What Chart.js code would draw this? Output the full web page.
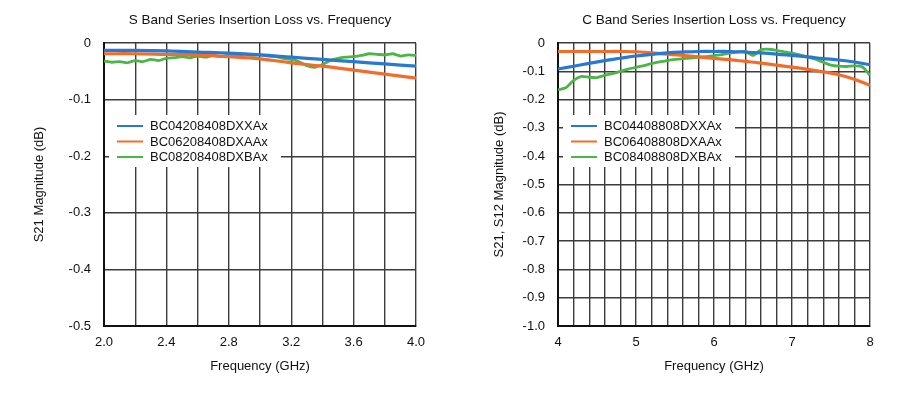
<!DOCTYPE html>
<html>
<head>
<meta charset="utf-8">
<script src="https://cdn.jsdelivr.net/npm/chart.js@4"></script>
<style>
    html, body { margin: 0; padding: 0; background: #fff; }
    .wrap { position: absolute; top: 0; width: 450px; height: 404px; }
</style>
</head>
<body>
<div class="wrap" style="left:0"><canvas id="sBand" width="450" height="404"></canvas></div>
<div class="wrap" style="left:450px"><canvas id="cBand" width="450" height="404"></canvas></div>
<script>
// S band (GHz / dB)
const sFreqSmooth = [2.0, 2.2, 2.4, 2.6, 2.8, 3.0, 3.2, 3.4, 3.6, 3.8, 4.0];
const sBlue = [-0.013, -0.013, -0.014, -0.016, -0.018, -0.021, -0.025, -0.029, -0.033, -0.037, -0.041];
const sOrange = [-0.019, -0.019, -0.020, -0.021, -0.024, -0.028, -0.035, -0.041, -0.048, -0.055, -0.062];
const sFreqGreen = [
    2.00, 2.05, 2.10, 2.15, 2.20, 2.25, 2.30, 2.35, 2.40, 2.45, 2.50, 2.55, 2.60, 2.65,
    2.70, 2.75, 2.80, 2.85, 2.90, 2.95, 3.00, 3.05, 3.10, 3.15, 3.20, 3.25, 3.30, 3.35,
    3.40, 3.45, 3.50, 3.55, 3.60, 3.65, 3.70, 3.75, 3.80, 3.85, 3.90, 3.95, 4.00
];
const sGreen = [
    -0.032, -0.034, -0.033, -0.035, -0.031, -0.033, -0.029, -0.031, -0.027, -0.026, -0.024, -0.026, -0.023, -0.025,
    -0.022, -0.024, -0.021, -0.023, -0.020, -0.022, -0.021, -0.023, -0.024, -0.027, -0.029, -0.033, -0.040, -0.043,
    -0.038, -0.031, -0.027, -0.025, -0.024, -0.022, -0.019, -0.020, -0.021, -0.019, -0.023, -0.021, -0.022
];
const sLabels = ['BC04208408DXXAx', 'BC06208408DXAAx', 'BC08208408DXBAx'];

// C band (GHz / dB)
const cFreqSmooth = [4.0, 4.2, 4.4, 4.6, 4.8, 5.0, 5.2, 5.4, 5.6, 5.8, 6.0, 6.2, 6.4, 6.6, 6.8, 7.0, 7.2, 7.4, 7.6, 7.8, 8.0];
const cBlue = [
    -0.092, -0.082, -0.072, -0.062, -0.054, -0.046, -0.040, -0.035, -0.032, -0.030, -0.030,
    -0.030, -0.032, -0.035, -0.039, -0.044, -0.049, -0.055, -0.060, -0.067, -0.077
];
const cOrange = [
    -0.030, -0.030, -0.030, -0.030, -0.030, -0.031, -0.035, -0.039, -0.044, -0.049, -0.054,
    -0.059, -0.065, -0.071, -0.078, -0.085, -0.093, -0.102, -0.112, -0.128, -0.150
];
const cFreqGreen = [
    4.0, 4.1, 4.2, 4.3, 4.4, 4.5, 4.6, 4.7, 4.8, 4.9, 5.0, 5.1, 5.2, 5.3, 5.4, 5.5, 5.6, 5.7, 5.8, 5.9, 6.0,
    6.1, 6.2, 6.3, 6.4, 6.5, 6.6, 6.7, 6.8, 6.9, 7.0, 7.1, 7.2, 7.3, 7.4, 7.5, 7.6, 7.7, 7.8, 7.9, 8.0
];
const cGreen = [
    -0.165, -0.158, -0.132, -0.118, -0.121, -0.122, -0.114, -0.108, -0.100, -0.092, -0.086, -0.080, -0.073, -0.067,
    -0.062, -0.058, -0.055, -0.053, -0.050, -0.048, -0.045, -0.041, -0.036, -0.032, -0.030, -0.044, -0.024, -0.022,
    -0.026, -0.031, -0.036, -0.042, -0.050, -0.057, -0.068, -0.078, -0.082, -0.083, -0.081, -0.084, -0.114
];
const cLabels = ['BC04408808DXXAx', 'BC06408808DXAAx', 'BC08408808DXBAx'];

const seriesColors = ['#2878d4', '#f26d2a', '#4cb548'];
const FONT = 'Liberation Sans, Arial, sans-serif';
const TEXT = '#111';

const toPoints = (xs, ys) => xs.map((x, i) => ({ x, y: ys[i] }));

// legend drawn inside the plot, on a white patch that hides the grid
const innerLegend = {
    id: 'innerLegend',
    afterDatasetsDraw(chart, args, opts) {
        const { ctx, chartArea } = chart;
        const x0 = chartArea.left + opts.dx;
        const y0 = chartArea.top + opts.dy;
        ctx.save();
        ctx.fillStyle = '#fff';
        ctx.fillRect(x0, y0, opts.w, opts.h);
        ctx.font = '13px ' + FONT;
        ctx.textBaseline = 'middle';
        chart.data.datasets.forEach((ds, i) => {
            const y = y0 + 11 + i * 15.5;
            ctx.strokeStyle = ds.borderColor;
            ctx.lineWidth = 2;
            ctx.beginPath();
            ctx.moveTo(x0 + 8, y);
            ctx.lineTo(x0 + 34, y);
            ctx.stroke();
            ctx.fillStyle = TEXT;
            ctx.fillText(ds.label, x0 + 41, y + 0.5);
        });
        ctx.restore();
    }
};

const makeChart = (id, cfg) => {
    const ctx = document.getElementById(id).getContext('2d');
    return new Chart(ctx, {
        type: 'line',
        data: {
            datasets: cfg.series.map((s, i) => ({
                label: cfg.labels[i],
                data: s,
                borderColor: seriesColors[i],
                borderWidth: i === 2 ? 2.8 : 3.2,
                pointRadius: 0,
                tension: i === 2 ? 0.2 : 0.4,
                fill: false
            }))
        },
        options: {
            responsive: false,
            animation: false,
            layout: { padding: { left: 0, right: cfg.padRight, top: 0, bottom: 0 } },
            plugins: {
                legend: { display: false },
                tooltip: { enabled: false },
                title: {
                    display: true,
                    text: cfg.title,
                    fullSize: false,
                    color: TEXT,
                    font: { family: FONT, size: 13.5, weight: 'normal' },
                    padding: { top: 12, bottom: 14.8 }
                },
                innerLegend: { dx: 5, dy: 72, w: 172, h: 52 }
            },
            scales: {
                x: {
                    type: 'linear',
                    min: cfg.xMin,
                    max: cfg.xMax,
                    afterFit: (scale) => { scale.height = 78; },
                    border: { color: '#111', width: 2 },
                    grid: { color: '#3c3c3c', lineWidth: 1.4, drawTicks: false },
                    ticks: {
                        stepSize: 0.2,
                        autoSkip: false,
                        maxRotation: 0,
                        padding: 9,
                        color: TEXT,
                        font: { family: FONT, size: 13 },
                        callback: cfg.xTick
                    },
                    title: {
                        display: true,
                        text: 'Frequency (GHz)',
                        color: TEXT,
                        font: { family: FONT, size: 13 },
                        padding: { top: 0, bottom: 30 }
                    }
                },
                y: {
                    min: cfg.yMin,
                    max: 0,
                    afterFit: (scale) => { scale.width = cfg.yWidth; },
                    border: { color: '#111', width: 2 },
                    grid: { color: '#3c3c3c', lineWidth: 1.4, drawTicks: false },
                    ticks: {
                        stepSize: 0.1,
                        padding: 13,
                        color: TEXT,
                        font: { family: FONT, size: 13 },
                        callback: (v) => (Math.abs(v) < 1e-9 ? '0' : v.toFixed(1))
                    },
                    title: {
                        display: true,
                        text: cfg.yTitle,
                        color: TEXT,
                        font: { family: FONT, size: 13 },
                        padding: { top: cfg.yTitlePad, bottom: 0 }
                    }
                }
            }
        },
        plugins: [innerLegend]
    });
};

makeChart('sBand', {
    title: 'S Band Series Insertion Loss vs. Frequency',
    labels: sLabels,
    series: [toPoints(sFreqSmooth, sBlue), toPoints(sFreqSmooth, sOrange), toPoints(sFreqGreen, sGreen)],
    xMin: 2, xMax: 4, yMin: -0.5,
    yWidth: 104, padRight: 34, yTitlePad: 32,
    yTitle: 'S21 Magnitude (dB)',
    xTick: (v) => (Math.round(v * 10) % 4 === 0 ? v.toFixed(1) : '')
});

makeChart('cBand', {
    title: 'C Band Series Insertion Loss vs. Frequency',
    labels: cLabels,
    series: [toPoints(cFreqSmooth, cBlue), toPoints(cFreqSmooth, cOrange), toPoints(cFreqGreen, cGreen)],
    xMin: 4, xMax: 8, yMin: -1.0,
    yWidth: 108, padRight: 30, yTitlePad: 42,
    yTitle: 'S21, S12 Magnitude (dB)',
    xTick: (v) => (Math.round(v * 10) % 10 === 0 ? String(Math.round(v)) : '')
});
</script>
</body>
</html>
